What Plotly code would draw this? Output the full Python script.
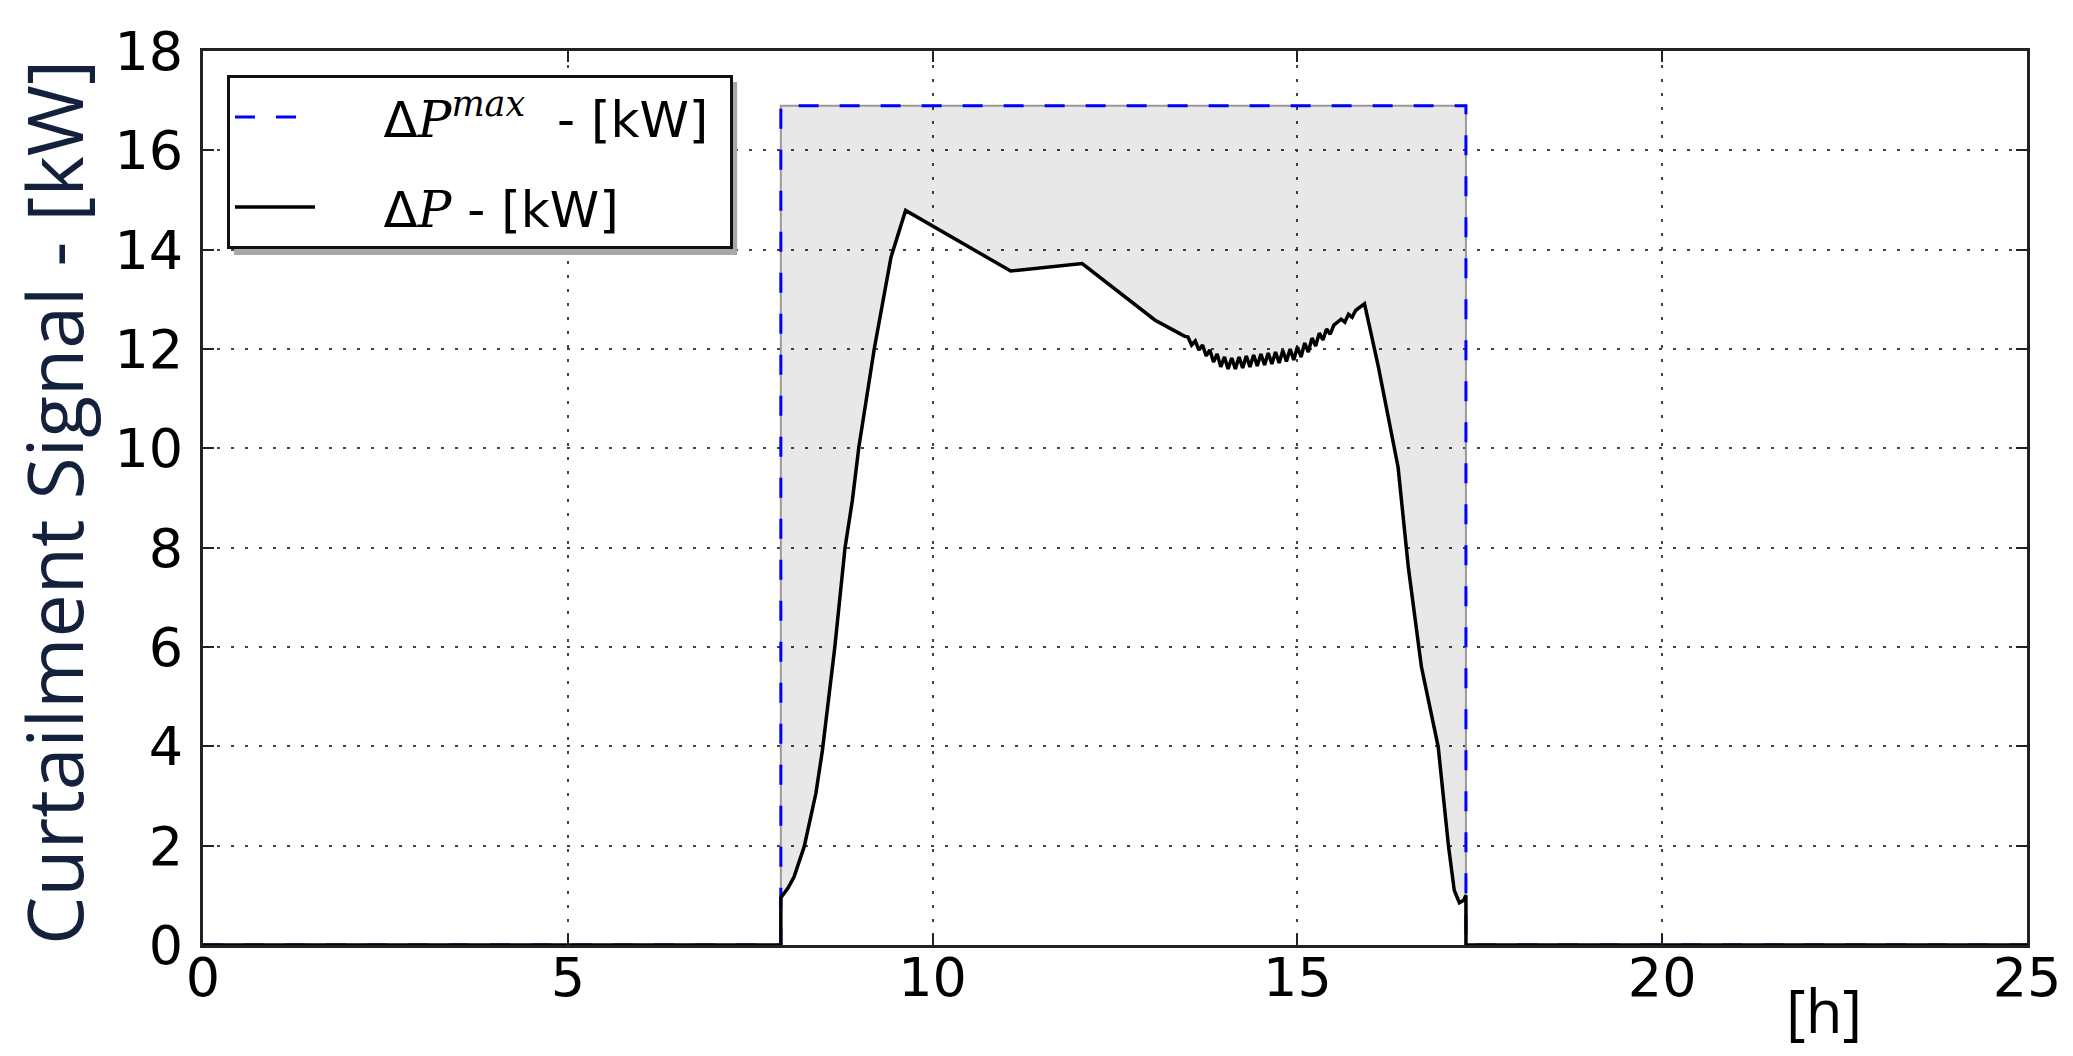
import plotly.graph_objects as go

# ---- data ----
hours_max = [0, 7.92, 7.92, 17.31, 17.31, 25]
dp_max = [0, 0, 16.9, 16.9, 0, 0]

hours_dp = [0, 7.92, 7.92, 8.02, 8.10, 8.24, 8.40, 8.49, 8.66, 8.80, 8.90, 8.99, 9.20, 9.43, 9.63,
            11.07, 12.05, 13.05, 13.30, 13.45,
            13.50, 13.55, 13.60, 13.65, 13.70, 13.75, 13.80, 13.85, 13.90, 13.95,
            14.00, 14.05, 14.10, 14.15, 14.20, 14.25, 14.30, 14.35, 14.40, 14.45,
            14.50, 14.55, 14.60, 14.65, 14.70, 14.75, 14.80, 14.85, 14.90, 14.95,
            15.00, 15.05, 15.10, 15.15, 15.20, 15.25, 15.30, 15.35, 15.40, 15.45, 15.50,
            15.60, 15.65, 15.70, 15.75, 15.80, 15.92,
            16.11, 16.38, 16.52, 16.70, 16.93, 17.07, 17.15, 17.22, 17.28, 17.31, 17.31, 25]
dp = [0, 0, 0.95, 1.15, 1.37, 1.98, 3.05, 3.92, 6.0, 8.0, 8.95, 10.03, 12.0, 13.85, 14.79,
      13.57, 13.72, 12.58, 12.38, 12.26,
      12.24, 12.08, 12.16, 11.98, 12.08, 11.86, 11.98, 11.74, 11.90, 11.64,
      11.84, 11.60, 11.82, 11.60, 11.84, 11.62, 11.86, 11.64, 11.88, 11.66,
      11.90, 11.68, 11.92, 11.70, 11.94, 11.72, 11.97, 11.75, 12.00, 11.78,
      12.04, 11.84, 12.12, 11.94, 12.22, 12.06, 12.32, 12.18, 12.40, 12.30, 12.48,
      12.60, 12.54, 12.70, 12.64, 12.78, 12.91,
      11.64, 9.62, 7.61, 5.6, 3.99, 2.0, 1.1, 0.85, 0.9, 1.0, 0, 0]

x_ticks = [0, 5, 10, 15, 20, 25]
y_ticks = [0, 2, 4, 6, 8, 10, 12, 14, 16, 18]

# ---- figure geometry ----
W, H = 2073, 1056
ML, MR, MT, MB = 203, 43, 51, 111
PW, PH = W - ML - MR, H - MT - MB

fig = go.Figure()

# shaded region between the two curves within the curtailment window
t_on, t_off, top = hours_max[2], hours_max[3], dp_max[2]
seg = [(h, v) for h, v in zip(hours_dp, dp) if t_on <= h <= t_off and v > 0]
poly_x = [p[0] for p in seg] + [t_off, t_on, t_on]
poly_y = [p[1] for p in seg] + [top, top, seg[0][1]]
fig.add_trace(go.Scatter(x=poly_x, y=poly_y, mode="lines", fill="toself",
                         fillcolor="rgba(0,0,0,0.09)",
                         line=dict(color="#9a9a9a", width=2),
                         showlegend=False, hoverinfo="skip"))

pad = "\u00a0" * 4
fig.add_trace(go.Scatter(
    x=hours_max, y=dp_max, mode="lines",
    line=dict(color="#0000ff", width=3, dash="20px,21px"),
    name=pad + "Δ<span style='font-family:DejaVu Serif'><i>P</i><sup><i>max</i></sup></span>\u00a0\u00a0- [kW]\u00a0",
    legendgroup="a"))

fig.add_trace(go.Scatter(
    x=hours_dp, y=dp, mode="lines",
    line=dict(color="#000000", width=3.5),
    name=pad + "Δ<span style='font-family:DejaVu Serif'><i>P</i></span> - [kW]",
    legendgroup="b"))

tickfont = dict(family="DejaVu Sans", size=54, color="#000")
axis_common = dict(showline=True, linecolor="#222", linewidth=3, mirror="ticks",
                   ticks="inside", ticklen=11, tickwidth=2, tickcolor="#222",
                   showgrid=True, gridcolor="#444", gridwidth=2, griddash="3px,11px",
                   zeroline=False, tickfont=tickfont)

fig.update_xaxes(range=[0, 25], tickvals=x_ticks, ticktext=[str(v) for v in x_ticks],
                 ticklabelstandoff=-17, **axis_common)
fig.update_yaxes(range=[0, 18], tickvals=y_ticks, ticktext=[str(v) for v in y_ticks],
                 ticklabelstandoff=6, **axis_common)

# legend shadow
fig.add_shape(type="rect", xref="paper", yref="paper",
              x0=(234 - ML) / PW, x1=(738 - ML) / PW,
              y0=1 - (255 - MT) / PH, y1=1 - (82 - MT) / PH,
              fillcolor="#a8a8a8", line=dict(width=0), layer="above")

fig.add_annotation(text="Curtailment Signal - [kW]", xref="paper", yref="paper",
                   x=0, y=0.5, xanchor="center", yanchor="middle", xshift=-150, yshift=-5,
                   textangle=-90, showarrow=False,
                   font=dict(family="Open Sans", size=77, color="#14213d"))
fig.add_annotation(text="[h]", xref="paper", yref="paper",
                   x=(1827 - ML) / PW, y=-(1010 - 945) / PH,
                   xanchor="center", yanchor="middle", showarrow=False,
                   font=dict(family="Open Sans", size=60, color="#000"))

fig.update_layout(
    width=W, height=H,
    margin=dict(l=ML, r=MR, t=MT, b=MB),
    paper_bgcolor="white", plot_bgcolor="white",
    showlegend=True,
    legend=dict(x=(227 - ML) / PW, y=1 - (75 - MT) / PH, xanchor="left", yanchor="top",
                bgcolor="white", bordercolor="#111", borderwidth=3,
                font=dict(family="DejaVu Sans", size=50, color="#000"),
                itemwidth=80, tracegroupgap=22),
)

fig.write_html("out.html", config={"displayModeBar": False},
               post_script="document.body.style.margin='0';document.body.style.overflow='hidden';")
